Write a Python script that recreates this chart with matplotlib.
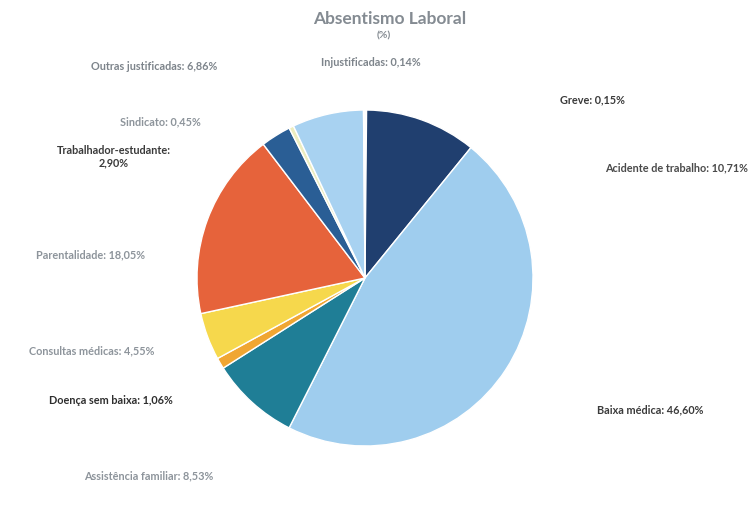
import matplotlib
matplotlib.use("Agg")
import matplotlib.pyplot as plt

# Dados do gráfico (ordem no sentido horário a partir do topo)
categorias = ['Greve', 'Acidente de trabalho', 'Baixa médica', 'Assistência familiar',
              'Doença sem baixa', 'Consultas médicas', 'Parentalidade',
              'Trabalhador-estudante', 'Sindicato', 'Outras justificadas', 'Injustificadas']
valores = [0.15, 10.71, 46.60, 8.53, 1.06, 4.55, 18.05, 2.90, 0.45, 6.86, 0.14]
cores = ['#f4f4f4', '#203f6f', '#9fcdee', '#1f7e96', '#f0a632', '#f6d84c',
         '#e6633b', '#2a5e95', '#ecedbf', '#a8d2f1', '#f4f4f4']

# Posição dos rótulos (px na figura) e cor do texto
pos_rotulos = [(592, 100, 'center'), (605, 168, 'left'), (650, 410, 'center'),
               (149, 476, 'center'), (111, 401, 'center'), (92, 351, 'center'),
               (90, 255, 'center'), (114, 157, 'center'), (160, 122, 'center'),
               (154, 67, 'center'), (371, 62, 'center')]
cor_texto = ['#3a3a3a', '#4a4a4a', '#3a3a3a', '#8d949b', '#2e2e2e', '#8d949b',
             '#8d949b', '#3a3a3a', '#8d949b', '#7d848b', '#7d848b']

W, H = 748, 508
plt.rcParams['font.family'] = ['Lato', 'DejaVu Sans']

fig = plt.figure(figsize=(W / 100, H / 100), dpi=100)
cx, cy, r = 365, 278, 168
ax = fig.add_axes([(cx - r) / W, (H - cy - r) / H, 2 * r / W, 2 * r / H])
ax.pie(valores, colors=cores, startangle=90, counterclock=False,
       wedgeprops={'edgecolor': 'white', 'linewidth': 1.0})
ax.set_xlim(-1, 1)
ax.set_ylim(-1, 1)
ax.set_aspect('equal')

for nome, v, (x, y, ha), c in zip(categorias, valores, pos_rotulos, cor_texto):
    txt = f"{nome}: {v:.2f}%".replace('.', ',')
    if nome == 'Trabalhador-estudante':
        txt = txt.replace(': ', ':\n')
    fig.text(x / W, 1 - y / H, txt, ha=ha, va='center', fontsize=7.8,
             fontweight='bold', color=c, linespacing=1.15)

fig.text(390 / W, 1 - 19 / H, 'Absentismo Laboral', ha='center', va='center',
         fontsize=12.5, fontweight='bold', color='#848b92')
fig.text(384 / W, 1 - 36 / H, '(%)', ha='center', va='center',
         fontsize=7.5, fontweight='bold', color='#848b92')

fig.savefig('out.png', dpi=100)
